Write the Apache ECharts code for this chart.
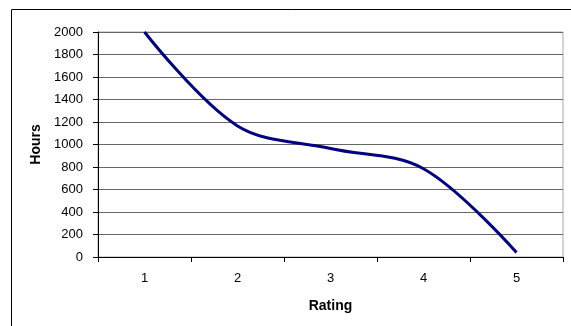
<!DOCTYPE html>
<html>
<head>
<meta charset="utf-8">
<script src="https://cdn.jsdelivr.net/npm/echarts@6/dist/echarts.min.js"></script>
<style>
html,body{margin:0;padding:0;background:#fff;}
#chart{width:571px;height:326px;}
</style>
</head>
<body>
<div id="chart"></div>
<script>
const categories = ['1', '2', '3', '4', '5'];
const hours = [2000, 1165, 965, 785, 40];
const yTicks = [0, 200, 400, 600, 800, 1000, 1200, 1400, 1600, 1800, 2000];

const chart = echarts.init(document.getElementById('chart'), null, {renderer: 'canvas'});
const font = '"Liberation Sans", Arial, sans-serif';
chart.setOption({
  animation: false,
  backgroundColor: '#ffffff',
  graphic: [{
    type: 'rect',
    shape: {x: 11.5, y: 9.5, width: 700, height: 400},
    style: {fill: 'none', stroke: '#000', lineWidth: 1},
    silent: true
  }],
  grid: {
    left: 98, right: 8, top: 32, bottom: 69,
    show: true, borderColor: '#a8a8a8', borderWidth: 1, backgroundColor: 'transparent'
  },
  xAxis: {
    type: 'category',
    data: categories,
    boundaryGap: true,
    name: 'Rating',
    nameLocation: 'middle',
    nameGap: 42,
    nameTextStyle: {fontFamily: font, fontSize: 14, fontWeight: 'bold', color: '#000'},
    axisLine: {show: true, lineStyle: {color: '#000', width: 1}},
    axisTick: {show: true, length: 5, alignWithLabel: false, lineStyle: {color: '#000'}},
    axisLabel: {fontFamily: font, fontSize: 13, color: '#000', margin: 15},
    splitLine: {show: false}
  },
  yAxis: {
    type: 'value',
    min: yTicks[0],
    max: yTicks[yTicks.length - 1],
    interval: yTicks[1] - yTicks[0],
    name: 'Hours',
    nameLocation: 'middle',
    nameGap: 51,
    nameTextStyle: {fontFamily: font, fontSize: 14, fontWeight: 'bold', color: '#000'},
    axisLine: {show: true, lineStyle: {color: '#000', width: 1}},
    axisTick: {show: true, length: 5, lineStyle: {color: '#000'}},
    axisLabel: {fontFamily: font, fontSize: 13, color: '#000', margin: 15,
      formatter: function (v) { return String(v); }},
    splitLine: {show: true, lineStyle: {color: '#666', width: 1}}
  },
  series: [{
    type: 'line',
    data: hours,
    smooth: 0.35,
    showSymbol: false,
    symbol: 'none',
    lineStyle: {color: '#000080', width: 3},
    clip: false
  }]
});
</script>
</body>
</html>
